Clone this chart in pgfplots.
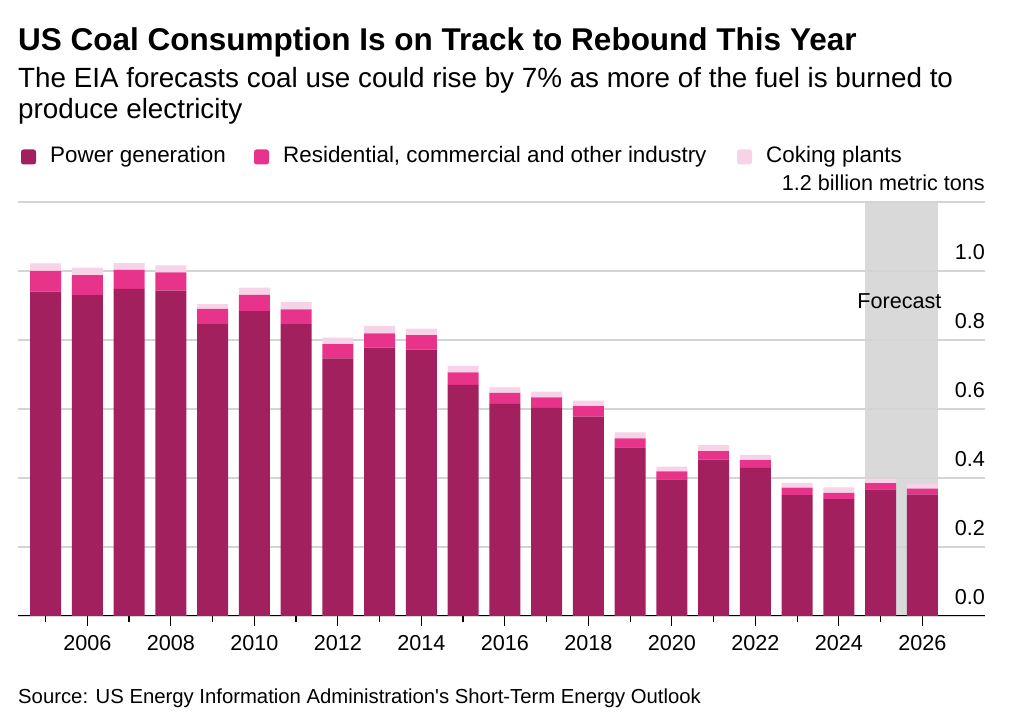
\documentclass[border=0pt]{standalone}
\usepackage{fontspec}
\setmainfont{Liberation Sans}
\usepackage{pgfplots}
\usepackage{pgfplotstable}
\pgfplotsset{compat=1.18}

\definecolor{powergen}{HTML}{A3205E}
\definecolor{rescom}{HTML}{E8338A}
\definecolor{coking}{HTML}{F6D3E6}
\definecolor{gridgray}{HTML}{D4D4D4}
\definecolor{fcshade}{HTML}{D9D9D9}

% straight apostrophe, past the tex-text mapping
\newcommand{\apos}{\XeTeXglyph\XeTeXcharglyph"0027\relax}

% billion metric tons
\pgfplotstableread{
year power res coke
2005 0.940 0.060 0.022
2006 0.930 0.058 0.022
2007 0.948 0.055 0.020
2008 0.943 0.053 0.020
2009 0.846 0.044 0.014
2010 0.884 0.047 0.021
2011 0.846 0.043 0.021
2012 0.747 0.041 0.019
2013 0.778 0.041 0.022
2014 0.772 0.042 0.019
2015 0.670 0.036 0.019
2016 0.615 0.032 0.016
2017 0.603 0.031 0.016
2018 0.578 0.030 0.016
2019 0.489 0.026 0.017
2020 0.396 0.023 0.014
2021 0.453 0.025 0.017
2022 0.429 0.023 0.015
2023 0.350 0.022 0.014
2024 0.339 0.018 0.016
2025 0.366 0.019 0.013
2026 0.352 0.017 0.015
}\coal

\pgfplotsset{
  coalframe/.style={
    at={(18pt,109pt)}, anchor=south west,
    width=967pt, height=414pt, scale only axis,
    xmin=2004.34, xmax=2027.5, ymin=0, ymax=1.2,
  },
}

\begin{document}
\begin{tikzpicture}
\useasboundingbox (0,0) rectangle (1024pt,725pt);

% title block
\node[anchor=base west, inner sep=0pt] at (18pt,674pt)
  {\fontsize{31.5}{36}\selectfont\bfseries US Coal Consumption Is on Track to Rebound This Year};
\node[anchor=base west, inner sep=0pt] at (18pt,637.5pt)
  {\fontsize{27.8}{32}\selectfont The EIA forecasts coal use could rise by 7\% as more of the fuel is burned to};
\node[anchor=base west, inner sep=0pt] at (18pt,606pt)
  {\fontsize{27.8}{32}\selectfont produce electricity};

% legend
\fill[powergen, rounded corners=2.5pt] (21pt,560.5pt) rectangle (36pt,575.5pt);
\node[anchor=base west, inner sep=0pt] at (50pt,562pt) {\fontsize{22.4}{26}\selectfont Power generation};
\fill[rescom, rounded corners=2.5pt] (254pt,560.5pt) rectangle (269pt,575.5pt);
\node[anchor=base west, inner sep=0pt] at (283pt,562pt) {\fontsize{22.4}{26}\selectfont Residential, commercial and other industry};
\fill[coking, rounded corners=2.5pt] (737pt,560.5pt) rectangle (752pt,575.5pt);
\node[anchor=base west, inner sep=0pt] at (766pt,562pt) {\fontsize{22.4}{26}\selectfont Coking plants};

% forecast band behind the chart
\begin{axis}[coalframe, hide axis]
\addplot[fill=fcshade, draw=none] coordinates {(2024.63,0) (2024.63,1.2) (2026.37,1.2) (2026.37,0)} --cycle;
\end{axis}

\begin{axis}[
  coalframe,
  ybar stacked, bar width=31pt,
  axis line style={draw=none},
  ymajorgrids, grid style={gridgray, line width=1.5pt},
  xtick={2006,2008,2010,2012,2014,2016,2018,2020,2022,2024,2026},
  xticklabels={2006,2008,2010,2012,2014,2016,2018,2020,2022,2024,2026},
  minor xtick={2005,2007,2009,2011,2013,2015,2017,2019,2021,2023,2025},
  xtick pos=left, tick align=outside,
  major tick length=10pt, minor tick length=6pt,
  xtick style={black, line width=1.2pt},
  ytick={0,0.2,0.4,0.6,0.8,1.0,1.2},
  yticklabels={0.0,0.2,0.4,0.6,0.8,1.0,1.2 billion metric tons},
  yticklabel pos=right,
  ytick style={draw=none},
  ticklabel style={font=\fontsize{21.6}{25}\selectfont, inner sep=0pt},
  xticklabel style={anchor=north, yshift=-9pt},
  yticklabel style={anchor=base east, xshift=-10pt, yshift=11.5pt},
  /pgf/number format/assume math mode=true,
]
\addplot[fill=powergen, draw=none] table[x=year, y=power] {\coal};
\addplot[fill=rescom, draw=none] table[x=year, y=res] {\coal};
\addplot[fill=coking, draw=none] table[x=year, y=coke] {\coal};
\draw[black, line width=1.5pt] (rel axis cs:0,0) -- (rel axis cs:1,0);
\node[anchor=base, inner sep=0pt, font=\fontsize{21.6}{25}\selectfont] at (axis cs:2025.45,0.89) {Forecast};
\end{axis}

% source
\node[anchor=base west, inner sep=0pt] at (18pt,22pt)
  {\fontsize{20.3}{24}\selectfont Source: US Energy Information Administration\apos s Short-Term Energy Outlook};
\end{tikzpicture}
\end{document}
